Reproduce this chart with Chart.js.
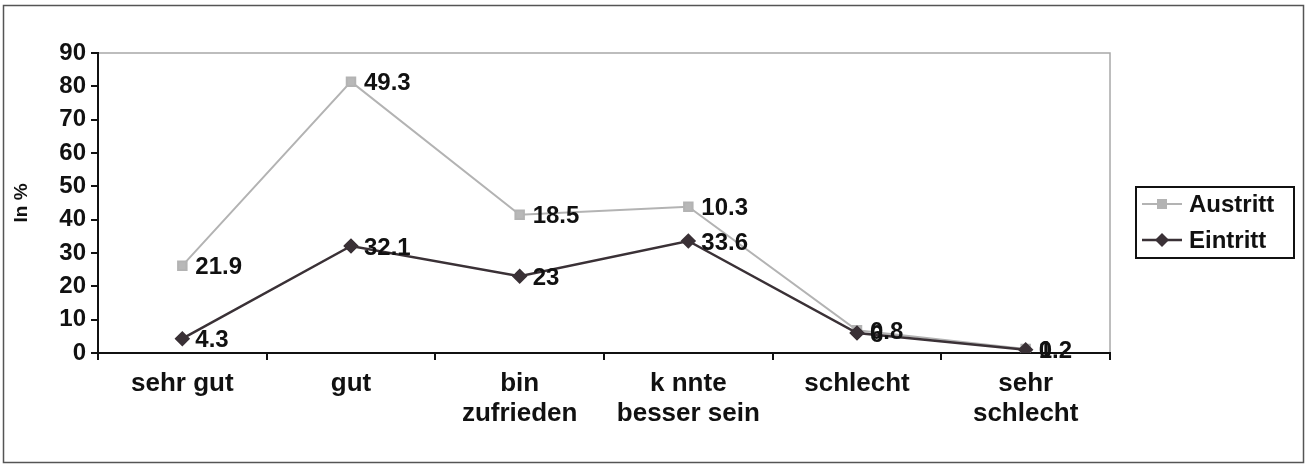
<!DOCTYPE html>
<html>
<head>
<meta charset="utf-8">
<script src="https://cdn.jsdelivr.net/npm/chart.js@4/dist/chart.umd.min.js"></script>
<style>
  html, body { margin: 0; padding: 0; background: #fff; }
  #wrap { width: 1307px; height: 472px; position: relative; }
</style>
</head>
<body>
<div id="wrap"><canvas id="chart-lines"></canvas></div>
<script>
// data (stacked: Austritt sits on top of Eintritt)
var categories = [['sehr gut'], ['gut'], ['bin', 'zufrieden'], ['k nnte', 'besser sein'], ['schlecht'], ['sehr', 'schlecht']];
var eintritt = [4.3, 32.1, 23, 33.6, 6, 1];
var austritt = [21.9, 49.3, 18.5, 10.3, 0.8, 0.2];
var yTicks = [0, 10, 20, 30, 40, 50, 60, 70, 80, 90];

var FONT = 'Liberation Sans, Arial, sans-serif';
var lightGrey = '#b3b3b3';
var darkLine = '#3a3136';

// frame, plot border, value labels and legend
var extrasPlugin = {
    id: 'extras',
    beforeDraw: function (chart) {
        var c = chart.ctx;
        var a = chart.chartArea;
        c.save();
        c.strokeStyle = '#555';
        c.lineWidth = 1.5;
        c.strokeRect(3.5, 5.5, 1300, 457);
        c.strokeStyle = '#a8a8a8';
        c.lineWidth = 1.5;
        c.strokeRect(a.left, a.top, a.right - a.left, a.bottom - a.top);
        c.restore();
    },
    afterDatasetsDraw: function (chart) {
        var c = chart.ctx;
        c.save();
        c.font = 'bold 24px ' + FONT;
        c.fillStyle = '#111';
        c.textAlign = 'left';
        c.textBaseline = 'middle';
        // Austritt labels first, Eintritt on top
        [1, 0].forEach(function (di) {
            var meta = chart.getDatasetMeta(di);
            var vals = chart.data.datasets[di].data;
            meta.data.forEach(function (pt, i) {
                c.fillText(String(vals[i]), pt.x + 13, pt.y + 2);
            });
        });

        // legend
        var lx = 1136, ly = 187, lw = 158, lh = 71;
        c.strokeStyle = '#111';
        c.lineWidth = 2;
        c.strokeRect(lx, ly, lw, lh);
        var rows = [
            { label: 'Austritt', color: lightGrey, style: 'rect', y: ly + 17 },
            { label: 'Eintritt', color: darkLine, style: 'rectRot', y: ly + 53 }
        ];
        rows.forEach(function (r) {
            c.strokeStyle = r.color;
            c.lineWidth = r.style === 'rect' ? 2 : 2.5;
            c.beginPath();
            c.moveTo(lx + 6, r.y);
            c.lineTo(lx + 46, r.y);
            c.stroke();
            c.fillStyle = r.color;
            if (r.style === 'rect') {
                c.fillRect(lx + 21, r.y - 5, 10, 10);
            } else {
                c.beginPath();
                c.moveTo(lx + 26, r.y - 7);
                c.lineTo(lx + 33, r.y);
                c.lineTo(lx + 26, r.y + 7);
                c.lineTo(lx + 19, r.y);
                c.closePath();
                c.fill();
            }
            c.fillStyle = '#111';
            c.font = 'bold 24px ' + FONT;
            c.fillText(r.label, lx + 53, r.y + 1);
        });
        c.restore();
    }
};

var ordersChart = new Chart(document.getElementById('chart-lines'), {
    type: 'line',
    data: {
        labels: categories,
        datasets: [{
            label: 'Eintritt',
            data: eintritt,
            borderColor: darkLine,
            backgroundColor: darkLine,
            borderWidth: 2.5,
            pointStyle: 'rectRot',
            pointRadius: 6,
            pointHoverRadius: 6,
            fill: false,
            tension: 0
        }, {
            label: 'Austritt',
            data: austritt,
            borderColor: lightGrey,
            backgroundColor: '#b8b8b8',
            borderWidth: 2,
            pointStyle: 'rect',
            pointRadius: 6,
            pointHoverRadius: 6,
            fill: false,
            tension: 0
        }]
    },
    options: {
        responsive: true,
        maintainAspectRatio: false,
        animation: false,
        layout: { padding: { left: 2, right: 197, top: 53, bottom: 0 } },
        plugins: {
            legend: { display: false },
            tooltip: { enabled: false }
        },
        scales: {
            x: {
                offset: true,
                grid: { offset: true, drawOnChartArea: false, drawTicks: true, tickLength: 7, color: '#111', lineWidth: 2 },
                border: { color: '#111', width: 2 },
                ticks: {
                    color: '#111',
                    font: { family: FONT, size: 26, weight: 'bold', lineHeight: 1.15 },
                    padding: 9,
                    maxRotation: 0,
                    autoSkip: false
                },
                afterFit: function (scale) { scale.height = 119; }
            },
            y: {
                stacked: true,
                min: 0,
                max: 90,
                afterBuildTicks: function (scale) {
                    scale.ticks = yTicks.map(function (v) { return { value: v }; });
                },
                grid: { drawOnChartArea: false, drawTicks: true, tickLength: 7, color: '#111', lineWidth: 2 },
                border: { color: '#111', width: 2 },
                ticks: {
                    color: '#111',
                    font: { family: FONT, size: 24, weight: 'bold' },
                    padding: 5
                },
                title: {
                    display: true,
                    text: 'In %',
                    color: '#111',
                    font: { family: FONT, size: 19, weight: 'bold' },
                    padding: { top: 8, bottom: 0 }
                },
                afterFit: function (scale) { scale.width = 96; }
            }
        }
    },
    plugins: [extrasPlugin]
});
</script>
</body>
</html>
